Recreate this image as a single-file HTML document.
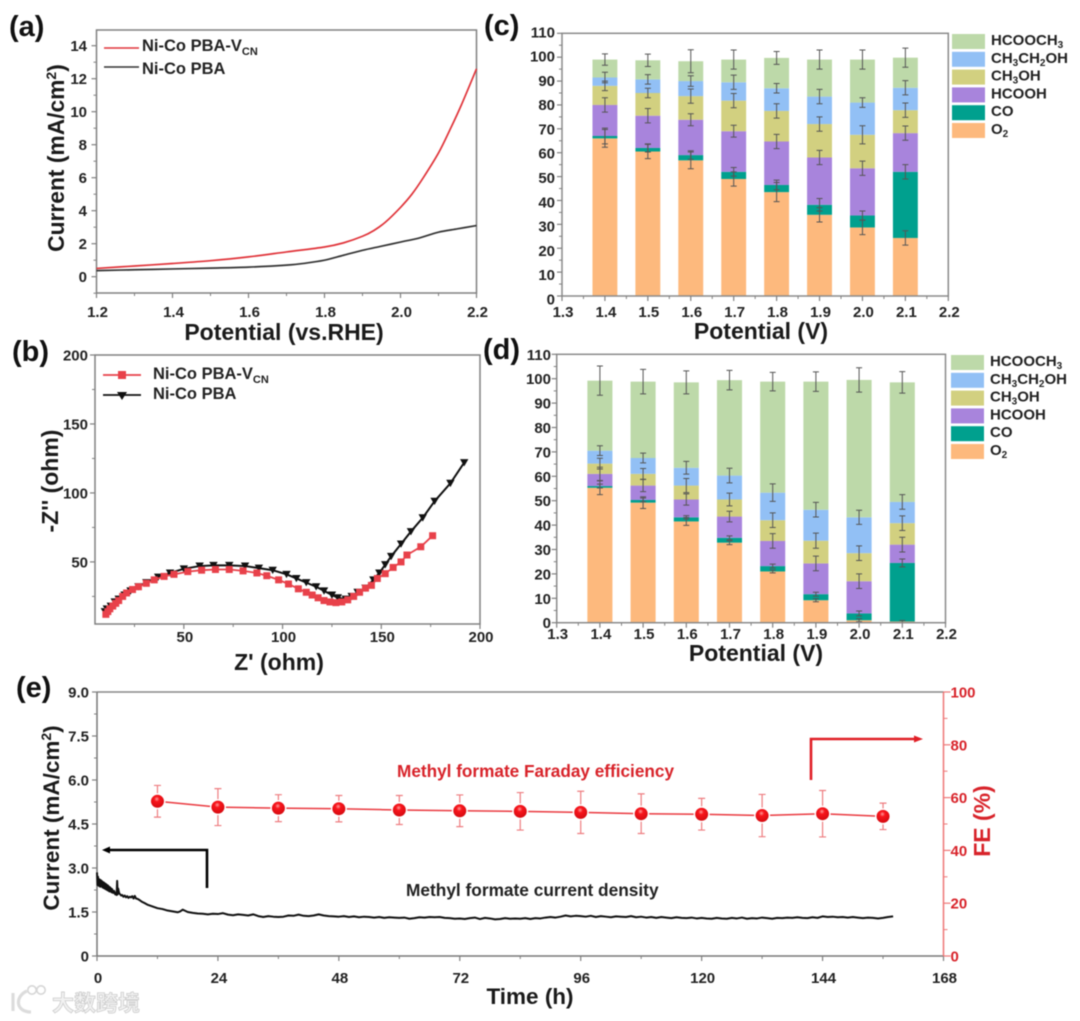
<!DOCTYPE html>
<html lang="en">
<head>
<meta charset="utf-8">
<title>Ni-Co PBA electrochemical figure</title>
<style>
html,body{margin:0;padding:0;background:#fff;width:1080px;height:1021px;overflow:hidden}
svg{display:block;filter:blur(.4px)}
text{font-family:"Liberation Sans","Noto Sans CJK SC",sans-serif;font-weight:bold;fill:#222}
.tick{font-size:15px}
.title{font-size:23px;fill:#1a1a1a}
.panel{font-size:29px;fill:#111}
.leg{font-size:16.5px}
.red{fill:#d8232a}
</style>
</head>
<body>
<svg id="fig" xmlns="http://www.w3.org/2000/svg" width="1080" height="1021" viewBox="0 0 1080 1021">
  <text class="panel" x="9" y="36">(a)</text>
  <text class="panel" x="12" y="361">(b)</text>
  <text class="panel" x="484" y="35">(c)</text>
  <text class="panel" x="483" y="359">(d)</text>
  <text class="panel" x="16" y="697">(e)</text>

  <text class="title" x="284" y="340" text-anchor="middle">Potential (vs.RHE)</text>
  <text class="title" style="font-size:22.8px" transform="translate(64,158) rotate(-90)" text-anchor="middle">Current (mA/cm<tspan dy="-8" font-size="14">2</tspan><tspan dy="8">)</tspan></text>
  <g>
    <line x1="104" x2="139" y1="48" y2="48" stroke="#e0343a" stroke-width="1.6"/>
    <text class="leg" x="142" y="51">Ni-Co PBA-V<tspan dy="4" font-size="11">CN</tspan></text>
    <line x1="104" x2="139" y1="67" y2="67" stroke="#333" stroke-width="1.6"/>
    <text class="leg" x="142" y="74">Ni-Co PBA</text>
  </g>

  <text class="title" x="279" y="670" text-anchor="middle">Z' (ohm)</text>
  <text class="title" transform="translate(58,481) rotate(-90)" text-anchor="middle">-Z'' (ohm)</text>
  <g>
    <line x1="103" x2="141" y1="375" y2="375" stroke="#e8414a" stroke-width="1.8"/>
    <rect x="118" y="371" width="8" height="8" fill="#e8414a"/>
    <text class="leg" x="153" y="379">Ni-Co PBA-V<tspan dy="4" font-size="11">CN</tspan></text>
    <line x1="103" x2="141" y1="395" y2="395" stroke="#111" stroke-width="1.8"/>
    <polygon points="117,392 127,392 122,400" fill="#111"/>
    <text class="leg" x="153" y="399">Ni-Co PBA</text>
  </g>

  <text class="title" x="761" y="339" text-anchor="middle">Potential (V)</text>
  <text class="title" x="756" y="661" text-anchor="middle">Potential (V)</text>

  <text class="title" style="font-size:22.5px" x="530" y="1004" text-anchor="middle">Time (h)</text>
  <text class="title" style="font-size:22.5px" transform="translate(59,818) rotate(-90)" text-anchor="middle">Current (mA/cm<tspan dy="-8" font-size="14">2</tspan><tspan dy="8">)</tspan></text>
  <text class="title red" transform="translate(990,821) rotate(-90)" text-anchor="middle">FE (%)</text>
  <text class="red" x="397" y="777" font-size="17.2">Methyl formate Faraday efficiency</text>
  <text x="406" y="896" font-size="17.3">Methyl formate current density</text>

  <g>
    <path d="M207 888V850H109" fill="none" stroke="#000" stroke-width="2.6"/>
    <polygon points="102,850 110,846.5 110,853.5" fill="#000"/>
  </g>
  <g>
    <path d="M811 780V739H915" fill="none" stroke="#e01f26" stroke-width="2.6"/>
    <polygon points="923,739 914,735.5 914,742.5" fill="#e01f26"/>
  </g>

  <g>
    <path d="M13 993V1011M27 991C15 996 15 1012 31 1012" fill="none" stroke="#dcdcdc" stroke-width="3.2"/>
    <circle cx="32" cy="990" r="4.2" fill="none" stroke="#d6d6d6" stroke-width="1.6"/>
    <circle cx="41" cy="990" r="4.2" fill="none" stroke="#d6d6d6" stroke-width="1.6"/>
    <text x="52" y="1011" font-size="22" style="fill:#f2f2f2;stroke:#cdcdcd;stroke-width:.8px;font-family:'Liberation Sans','Noto Sans CJK SC',sans-serif">大数跨境</text>
  </g>
</svg>
<script>
// ---------- Panel (a) data ----------
const aVcnX = [1.2,1.3,1.4,1.5,1.6,1.7,1.8,1.85,1.9,1.93,1.96,2.0,2.03,2.06,2.1,2.13,2.16,2.2];
const aVcnY = [0.5,0.65,0.8,0.97,1.2,1.5,1.8,2.05,2.45,2.8,3.3,4.2,5.0,6.0,7.5,8.9,10.4,12.6];
const aPbaX = [1.2,1.3,1.4,1.5,1.6,1.7,1.75,1.8,1.85,1.9,1.95,2.0,2.05,2.1,2.15,2.2];
const aPbaY = [0.37,0.42,0.47,0.52,0.58,0.7,0.82,1.0,1.3,1.6,1.85,2.1,2.35,2.7,2.9,3.1];

// ---------- Panel (b) data ----------
const bVcnX = [10.5,11.5,12.5,14,15.5,17,19,21,24,27,31,35,40,45,52,59,66,73,80,87,92,98,103,108,112,115,118,121,124,127,130,133,136,139,142,145,148,152,156,160,163,170,176];
const bVcnY = [12,14,16,18,20,22,25,27.5,30,32,34.5,37,39.5,41,43,44,44.5,44.5,43.5,42,40,37,34,30.5,28,26,24,22,21,20.5,21,22.5,25,28,31,33,38,41.5,46,50,55,61,69];
const bPbaX = [10,11,13,15,17,20,23,27,31,37,43,50,58,65,73,81,88,95,102,107,112,117,121,125,128,132,135,138,142,146,149,152,155,160,165,171,177,185,192];
const bPbaY = [14,16,18,21,23,26,29,32,35,39,42,45,47,47.5,47.5,47,45.5,44,41,38,35,32,29,26,24,23,25,28,31,37,42,48,54,63,72,82,94,107,122];

// ---------- Panels (c) and (d) data ----------
const potentials = [1.4,1.5,1.6,1.7,1.8,1.9,2.0,2.1];
const productNames = ["O2","CO","HCOOH","CH3OH","CH3CH2OH","HCOOCH3"];

const cO2      = [66,60.5,56.8,49,43.5,34,28.7,24.3];
const cCO      = [1,1.5,2.2,3,3,4.2,5,27.7];
const cHCOOH   = [13,13.5,14.8,17,18.2,19.8,19.8,16.2];
const cCH3OH   = [8,9.5,9.9,12.8,12.8,14,14,9.6];
const cEtOH    = [3.5,5.7,6.3,7.7,9.5,11.5,13.5,9.4];
const cMF      = [7.5,8,8.3,9.5,12.7,15.5,18,12.6];
const cO2Err    = [3.7,3,3.5,3,4,3,3,3];
const cCOErr    = [3.3,1.7,1.8,1.8,2,2.6,1.9,3];
const cHCOOHErr = [3,3,2.5,2.5,3,3,3,3];
const cCH3OHErr = [2,2,3,3,3,3,3.8,3];
const cEtOHErr  = [2.2,2,2.2,3,2,3,2,3];
const cMFErr    = [2.4,2.6,4.8,4,2.7,4,4,4];

const dO2      = [55.3,49.2,41.5,32.8,21,9.2,1,0.5];
const dCO      = [0.7,1.1,1.7,2,2.2,2.5,2.8,24];
const dHCOOH   = [5,5.9,7.3,8.7,10.3,12.6,13.2,7.5];
const dCH3OH   = [4.2,4.8,5.7,7,8.5,9.3,11.5,8.8];
const dEtOH    = [5.3,6.5,7.3,9.8,11.3,12.7,14.7,8.7];
const dMF      = [28.7,31.3,35,39.1,45.5,52.5,56.3,49];
const dO2Err    = [2.8,2.4,1.6,0.8,0.6,0.6,0.6,0.4];
const dCOErr    = [0.8,0.8,0.7,0.8,0.8,0.8,1,1.6];
const dHCOOHErr = [2.7,2.5,2.3,2.2,3,3,3,3];
const dCH3OHErr = [2.2,2.2,2.9,2.6,3,3.1,3,3];
const dEtOHErr  = [2,2,2.6,3,3.6,3,2.9,3];
const dMFErr    = [6,5,4.7,4,3.8,4,5,4.4];

// ---------- Panel (e) data ----------
const feTime = [12,24,36,48,60,72,84,96,108,120,132,144,156];
const feValue = [58.6,56.4,56,55.8,55.3,55,54.8,54.4,53.9,53.7,53.2,53.9,52.9];
const feError = [6,7,5.1,5,5.5,6,7.1,8,7.5,6,8,8.8,5];

const currentEarlyTime = [0,0.1,0.2,0.3,0.4,0.5,0.6,0.7,0.8,0.9,1,1.1,1.2,1.3,1.4,1.5,1.6,1.7,1.8,1.9,2,2.1,2.2,2.3,2.4,2.5,2.6,2.7,2.8,2.9,3,3.2,3.4,3.6,3.8,3.9,4,4.1,4.2,4.4,4.6,4.8,5,5.25,5.5,5.75,6,6.25,6.5,6.75,7,7.25,7.5,7.75,8,8.5,9,9.5];
const currentEarlyValue = [2.85,2.42,2.7,2.4,2.62,2.38,2.6,2.36,2.58,2.4,2.55,2.34,2.52,2.32,2.5,2.3,2.47,2.28,2.45,2.26,2.42,2.24,2.4,2.22,2.36,2.2,2.34,2.2,2.3,2.17,2.28,2.15,2.22,2.1,2.16,2.08,2.56,2.1,2.3,2.14,2.1,2.06,2.08,2.02,2.06,2.0,2.04,1.98,2.02,2.0,2.04,1.96,2.05,1.96,1.95,1.9,1.84,1.8];
const currentLateTime = [10,11,12,13,14,15,16,16.5,17,18,19,20,21,22,23,24,25,26,27,28,29,30,31,32,33,34,35,36,37,38,39,40,41,42,43,44,45,46,47,48,49,50,51,52,53,54,55,56,57,58,59,60,61,62,63,64,65,66,67,68,69,70,71,72,73,74,75,76,77,78,79,80,81,82,83,84,85,86,87,88,89,90,91,92,93,94,95,96,97,98,99,100,101,102,103,104,105,106,107,108,109,110,111,112,113,114,115,116,117,118,119,120,121,122,123,124,125,126,127,128,129,130,131,132,133,134,135,136,137,138,139,140,141,142,143,144,145,146,147,148,149,150,151,152,153,154,155,156,157,158];
const currentLateValue = [1.75,1.69,1.63,1.6,1.55,1.52,1.49,1.52,1.58,1.5,1.47,1.45,1.44,1.42,1.44,1.43,1.46,1.41,1.39,1.42,1.4,1.38,1.42,1.36,1.33,1.36,1.34,1.33,1.34,1.38,1.37,1.41,1.37,1.36,1.38,1.42,1.38,1.36,1.35,1.34,1.36,1.33,1.35,1.32,1.34,1.33,1.31,1.33,1.3,1.32,1.31,1.3,1.31,1.27,1.29,1.32,1.31,1.33,1.32,1.33,1.3,1.29,1.27,1.28,1.26,1.29,1.31,1.26,1.3,1.28,1.25,1.26,1.29,1.27,1.28,1.27,1.29,1.26,1.29,1.28,1.31,1.33,1.31,1.34,1.38,1.35,1.37,1.36,1.34,1.37,1.33,1.36,1.34,1.32,1.35,1.34,1.33,1.36,1.32,1.34,1.31,1.33,1.3,1.33,1.31,1.29,1.32,1.3,1.29,1.31,1.28,1.3,1.28,1.27,1.3,1.28,1.27,1.3,1.28,1.31,1.27,1.29,1.28,1.31,1.29,1.27,1.3,1.29,1.31,1.3,1.32,1.3,1.29,1.32,1.3,1.35,1.33,1.34,1.32,1.33,1.31,1.33,1.31,1.29,1.31,1.3,1.28,1.3,1.33,1.35,1.33,1.34,1.31,1.34];

// ---------- Tick labels ----------
const aXTicks = [1.2,1.4,1.6,1.8,2.0,2.2];
const aYTicks = [0,2,4,6,8,10,12,14];
const bXTicks = [50,100,150,200];
const bYTicks = [50,100,150,200];
const barXTicks = [1.3,1.4,1.5,1.6,1.7,1.8,1.9,2.0,2.1,2.2];
const barYTicks = [0,10,20,30,40,50,60,70,80,90,100,110];
const eXTicks = [0,24,48,72,96,120,144,168];
const eYTicks = [0,1.5,3.0,4.5,6.0,7.5,9.0];
const eRightTicks = [0,20,40,60,80,100];

const NS = "http://www.w3.org/2000/svg";
const fig = document.getElementById("fig");
const AXIS = "#808080";

function mk(tag, attrs, parent) {
  const n = document.createElementNS(NS, tag);
  for (const k in attrs) n.setAttribute(k, attrs[k]);
  (parent || fig).appendChild(n);
  return n;
}
function scale(d0, d1, r0, r1) { return v => r0 + (v - d0) * (r1 - r0) / (d1 - d0); }
function fmt(v, digits) { return v === 0 ? "0" : v.toFixed(digits); }

function box(g, b, color) {
  const r = mk("rect", {x:b.l, y:b.t, width:b.r-b.l, height:b.b-b.t, fill:"none", stroke:color||AXIS, "stroke-width":1.5}, g);
  
  
}
function xAxis(g, b, xs, ticks, digits, step, minorLo, minorHi, labelY, labelDx) {
  ticks.forEach(t => {
    const l = mk("line", {x1:xs(t), x2:xs(t), y1:b.b, y2:b.b+5, stroke:AXIS, "stroke-width":1.2}, g);
    
    
    const s = mk("text", {x:xs(t)+labelDx, y:labelY, "text-anchor":"middle", class:"tick"}, g);
    s.textContent = fmt(t, digits);
    
    
  });
  for (let v = minorLo; v < minorHi + step/100; v += step) {
    const m = mk("line", {x1:xs(v), x2:xs(v), y1:b.b, y2:b.b+3, stroke:AXIS, "stroke-width":1}, g);
    
    
  }
}
function yAxis(g, b, ys, ticks, digits, step, minorLo, minorHi, labelX, labelShift) {
  ticks.forEach(t => {
    const l = mk("line", {x1:b.l-5, x2:b.l, y1:ys(t), y2:ys(t), stroke:AXIS, "stroke-width":1.2}, g);
    
    
    const s = mk("text", {x:labelX, y:ys(t)+5.5+labelShift(t), "text-anchor":"end", class:"tick"}, g);
    s.textContent = fmt(t, digits);
    
    
  });
  for (let v = minorLo; v < minorHi + step/100; v += step) {
    const m = mk("line", {x1:b.l-3, x2:b.l, y1:ys(v), y2:ys(v), stroke:AXIS, "stroke-width":1}, g);
    
    
  }
}
function pathOf(xv, yv, xs, ys) {
  return xv.map((v, i) => (i ? "L" : "M") + xs(v).toFixed(2) + " " + ys(yv[i]).toFixed(2)).join("");
}
function smoothPathOf(xv, yv, xs, ys) {
  const p = xv.map((v, i) => [xs(v), ys(yv[i])]);
  let d = "M" + p[0][0].toFixed(2) + " " + p[0][1].toFixed(2);
  for (let i = 0; i < p.length - 1; i++) {
    const a = p[Math.max(i-1, 0)], b = p[i], c = p[i+1], e = p[Math.min(i+2, p.length-1)];
    d += "C" + (b[0]+(c[0]-a[0])/6).toFixed(2) + " " + (b[1]+(c[1]-a[1])/6).toFixed(2) + " "
       + (c[0]-(e[0]-b[0])/6).toFixed(2) + " " + (c[1]-(e[1]-b[1])/6).toFixed(2) + " "
       + c[0].toFixed(2) + " " + c[1].toFixed(2);
  }
  return d;
}
const noShift = () => 0;

// ---------- Panel (a) ----------
(function () {
  const g = mk("g", {});
  
  
  const b = {l:96.5, r:476.5, t:30, b:293};
  const xs = scale(1.2, 2.2, b.l, b.r);
  const ys = scale(0, 14, 276.7, 45.7);
  box(g, b);
  xAxis(g, b, xs, aXTicks, 1, 0.2, 1.3, 2.1, 317, 1);
  yAxis(g, b, ys, aYTicks, 0, 2, -1, 13, 87, noShift);
  const p1 = mk("path", {d:smoothPathOf(aPbaX, aPbaY, xs, ys), fill:"none", stroke:"#333", "stroke-width":1.7}, g);
  
  
  const p2 = mk("path", {d:smoothPathOf(aVcnX, aVcnY, xs, ys), fill:"none", stroke:"#e0343a", "stroke-width":1.7}, g);
  
  
})();

// ---------- Panel (b) ----------
(function () {
  const g = mk("g", {});
  
  
  const b = {l:95, r:480, t:355, b:624};
  const xs = scale(5, 200, b.l, b.r);
  const ys = scale(5, 200, b.b, b.t);
  box(g, b);
  xAxis(g, b, xs, bXTicks, 0, 50, 25, 175, 642, 1);
  yAxis(g, b, ys, bYTicks, 0, 50, 25, 175, 88, noShift);
  const p1 = mk("path", {d:pathOf(bPbaX, bPbaY, xs, ys), fill:"none", stroke:"#111", "stroke-width":2}, g);
  
  
  bPbaX.forEach((v, i) => {
    const cx = xs(v), cy = ys(bPbaY[i]);
    const m = mk("polygon", {points:(cx-4.2)+","+(cy-3.5)+" "+(cx+4.2)+","+(cy-3.5)+" "+cx+","+(cy+3.8), fill:"#111"}, g);
    
    
  });
  const p2 = mk("path", {d:pathOf(bVcnX, bVcnY, xs, ys), fill:"none", stroke:"#e8414a", "stroke-width":1.8}, g);
  
  
  bVcnX.forEach((v, i) => {
    const m = mk("rect", {x:xs(v)-3.5, y:ys(bVcnY[i])-3.5, width:7, height:7, fill:"#e8414a"}, g);
    
    
  });
})();

// ---------- Panels (c), (d) ----------
const barColors = ["#fdb97d","#00a08e","#a884dc","#d2d080","#92c0f5","#bdd9a9"];
function stacked(panel, b, series, errors, labelX, labelY, legX, legTop, legTextX, labelShift) {
  const g = mk("g", {});
  
  
  const xs = scale(1.3, 2.2, b.l, b.r);
  const ys = scale(0, 110, b.b, b.t);
  const barW = xs(1.358) - xs(1.3);
  potentials.forEach((p, i) => {
    let base = 0;
    series.forEach((s, k) => {
      const r = mk("rect", {x:xs(p)-barW/2, y:ys(base+s[i]), width:barW, height:ys(base)-ys(base+s[i]), fill:barColors[k]}, g);
      
      
      base += s[i];
    });
  });
  potentials.forEach((p, i) => {
    let base = 0;
    series.forEach((s, k) => {
      base += s[i];
      const e = errors[k][i], cx = xs(p);
      const er = mk("path", {d:"M"+cx+" "+ys(base-e)+"V"+ys(base+e)+"M"+(cx-3)+" "+ys(base-e)+"h6M"+(cx-3)+" "+ys(base+e)+"h6", stroke:"#555", "stroke-width":1, fill:"none"}, g);
      
      
    });
  });
  box(g, b, "#8a8a8a");
  xAxis(g, b, xs, barXTicks, 1, 0.1, 1.35, 2.15, labelY, 1);
  yAxis(g, b, ys, barYTicks, 0, 10, 5, 105, labelX, labelShift);
  productNames.forEach((n, k) => {
    const row = 5 - k;
    const sw = mk("rect", {x:legX, y:legTop + row*17.8, width:33, height:15, fill:barColors[k]}, g);
    
    
    const t = mk("text", {x:legTextX, y:legTop + row*17.8 + 11, "font-size":15}, g);
    
    
    const parts = n.split(/(\d)/);
    parts.forEach(part => {
      if (!part) return;
      const ts = mk("tspan", {}, t);
      ts.textContent = part;
      if (/\d/.test(part)) { ts.setAttribute("font-size", "10"); ts.setAttribute("dy", "3"); }
      else if (t.childNodes.length > 1) { ts.setAttribute("dy", "-3"); }
    });
  });
}
stacked("c", {l:562, r:948.3, t:33.3, b:296},
  [cO2,cCO,cHCOOH,cCH3OH,cEtOH,cMF],
  [cO2Err,cCOErr,cHCOOHErr,cCH3OHErr,cEtOHErr,cMFErr], 555, 317, 952, 34, 991,
  v => 3 - v * 0.041);
stacked("d", {l:556.7, r:945.5, t:354.3, b:622.7},
  [dO2,dCO,dHCOOH,dCH3OH,dEtOH,dMF],
  [dO2Err,dCOErr,dHCOOHErr,dCH3OHErr,dEtOHErr,dMFErr], 551, 639, 951, 355, 990,
  noShift);

// ---------- Panel (e) ----------
(function () {
  const g = mk("g", {});
  
  
  const defs = mk("defs", {}, g);
  const rg = mk("radialGradient", {id:"ball", cx:"0.45", cy:"0.33", r:"0.68"}, defs);
  mk("stop", {offset:"0", "stop-color":"#ff9a9a"}, rg);
  mk("stop", {offset:"0.3", "stop-color":"#f8151c"}, rg);
  mk("stop", {offset:"1", "stop-color":"#d40a10"}, rg);

  const b = {l:97, r:943.5, t:692, b:956};
  const xs = scale(0, 168, b.l, b.r);
  const ys = scale(0, 9, b.b, b.t);
  const yr = scale(0, 100, b.b, b.t);

  const top = mk("line", {x1:b.l, x2:b.r, y1:b.t, y2:b.t, stroke:"#888", "stroke-width":1.5}, g);
  
  
  const bot = mk("line", {x1:b.l, x2:b.r, y1:b.b, y2:b.b, stroke:"#777", "stroke-width":1.5}, g);
  
  
  const left = mk("line", {x1:b.l, x2:b.l, y1:b.t, y2:b.b, stroke:"#777", "stroke-width":1.5}, g);
  
  
  const right = mk("line", {x1:b.r, x2:b.r, y1:b.t, y2:b.b, stroke:"#e77", "stroke-width":1.5}, g);
  
  

  xAxis(g, b, xs, eXTicks, 0, 24, 12, 156, 983, 1);
  yAxis(g, b, ys, eYTicks, 1, 1.5, 0.75, 8.25, 89, noShift);
  eRightTicks.forEach(t => {
    const l = mk("line", {x1:b.r, x2:b.r+7, y1:yr(t), y2:yr(t), stroke:"#e77", "stroke-width":1.2}, g);
    
    
    const s = mk("text", {x:b.r+7, y:yr(t)+5.5, class:"tick red"}, g);
    s.textContent = String(t);
    
    
  });
  for (let v = 10; v < 100; v += 20) {
    const m = mk("line", {x1:b.r, x2:b.r+4, y1:yr(v), y2:yr(v), stroke:"#e77", "stroke-width":1}, g);
    
    
  }

  const cur = mk("path", {d:pathOf(currentEarlyTime.concat(currentLateTime), currentEarlyValue.concat(currentLateValue), xs, ys), fill:"none", stroke:"#111", "stroke-width":2, "stroke-linejoin":"round"}, g);
  
  

  const fl = mk("path", {d:pathOf(feTime, feValue, xs, yr), fill:"none", stroke:"#ea3a40", "stroke-width":1.5}, g);
  
  
  feTime.forEach((t, i) => {
    const cx = xs(t), lo = yr(feValue[i]-feError[i]), hi = yr(feValue[i]+feError[i]);
    const e = mk("path", {d:"M"+cx+" "+lo+"V"+hi+"M"+(cx-3.5)+" "+lo+"h7M"+(cx-3.5)+" "+hi+"h7", stroke:"#ee7d80", "stroke-width":1.2, fill:"none"}, g);
    
    
    const halo = mk("circle", {cx:cx, cy:yr(feValue[i]), r:8, fill:"#fff"}, g);
    
    
    const c = mk("circle", {cx:cx, cy:yr(feValue[i]), r:6.5, fill:"url(#ball)"}, g);
    
    
  });
})();
</script>
</body>
</html>
